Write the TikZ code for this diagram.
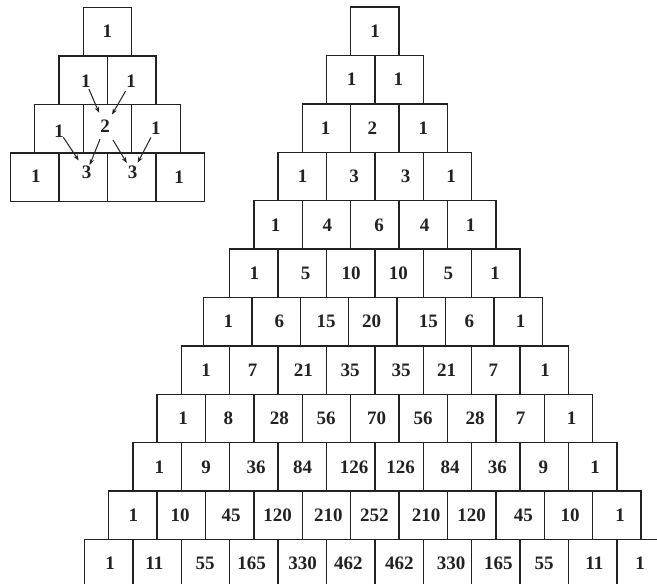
\documentclass[tikz,border=0pt]{standalone}
\usepackage{fontspec}
\setmainfont{Liberation Serif}
\usetikzlibrary{arrows.meta}
\definecolor{ink}{HTML}{222222}
\begin{document}
\begin{tikzpicture}[x=1pt,y=-1pt,
  cell/.style={draw=ink,line width=1.4pt,rectangle,inner sep=0pt,minimum width=48.4pt,minimum height=48.4pt},
  scell/.style={draw=ink,line width=1.4pt,rectangle,inner sep=0pt,minimum width=48.5pt,minimum height=48.6pt},
  num/.style={inner sep=0pt,text=ink,font=\fontsize{19}{19}\selectfont\bfseries},
  arr/.style={draw=ink,line width=1pt,-{Stealth[length=6pt,width=4.5pt]}}]
\useasboundingbox (0,0) rectangle (657,584);
% ---------- small pyramid ----------
\foreach \k in {0,...,3}{
  \foreach \j in {0,...,\k}{
    \node[scell] (s\k-\j) at ({107.5-24.25*\k+48.5*\j},{31.6+48.6*\k}) {};
  }
}
\node[num] (t0-0) at (107.3,31.7) {1};
\node[num] (t1-0) at (85.8,81.7) {1};
\node[num] (t1-1) at (131,81.7) {1};
\node[num] (t2-0) at (59,130.8) {1};
\node[num] (t2-1) at (105,126.7) {2};
\node[num] (t2-2) at (155.8,128.3) {1};
\node[num] (t3-0) at (35.8,176.7) {1};
\node[num] (t3-1) at (86.7,172.5) {3};
\node[num] (t3-2) at (132.5,172.5) {3};
\node[num] (t3-3) at (179.2,177) {1};
\draw[arr,shorten <=1pt,shorten >=8pt] (t1-0) -- (t2-1);
\draw[arr,shorten <=3.5pt,shorten >=6.5pt] (t1-1) -- (t2-1);
\draw[arr,shorten <=0pt,shorten >=6.5pt] (t2-0) -- (t3-1);
\draw[arr,shorten <=6.5pt,shorten >=1pt] (t2-1) -- (t3-1);
\draw[arr,shorten <=8pt,shorten >=3.4pt] (t2-1) -- (t3-2);
\draw[arr,shorten <=3pt,shorten >=3.6pt] (t2-2) -- (t3-2);
% ---------- big pyramid ----------
\foreach \k/\sh in {0/0,1/0,2/0,3/0,4/0,5/0,6/-2,7/0,8/0,9/0,10/0,11/0}{
  \foreach \j in {0,...,\k}{
    \node[cell] (b\k-\j) at ({374.8-24.2*\k+48.4*\j+\sh},{31.2+48.4*\k}) {};
  }
}
\foreach \x/\t [count=\j from 0] in {375/1}
  {\node[num] (n0-\j) at (\x,31.2) {\t};}
\foreach \x/\t [count=\j from 0] in {351.7/1,398.3/1}
  {\node[num] (n1-\j) at (\x,79.6) {\t};}
\foreach \x/\t [count=\j from 0] in {325.7/1,372.3/2,423.3/1}
  {\node[num] (n2-\j) at (\x,128) {\t};}
\foreach \x/\t [count=\j from 0] in {302.7/1,354/3,405.7/3,451/1}
  {\node[num] (n3-\j) at (\x,176.4) {\t};}
\foreach \x/\t [count=\j from 0] in {275.7/1,327.3/4,379/6,424.7/4,470.7/1}
  {\node[num] (n4-\j) at (\x,224.8) {\t};}
\foreach \x/\t [count=\j from 0] in {254.3/1,305.7/5,351/10,398.3/10,448.3/5,495/1}
  {\node[num] (n5-\j) at (\x,273.2) {\t};}
\foreach \x/\t [count=\j from 0] in {228.3/1,279.3/6,326/15,371.7/20,428.3/15,469.3/6,520.7/1}
  {\node[num] (n6-\j) at (\x,321.6) {\t};}
\foreach \x/\t [count=\j from 0] in {206/1,252.7/7,303.3/21,350/35,401/35,446.7/21,493.3/7,545/1}
  {\node[num] (n7-\j) at (\x,370) {\t};}
\foreach \x/\t [count=\j from 0] in {183/1,228.3/8,279.3/28,326/56,376.7/70,423/56,475/28,520.7/7,571.7/1}
  {\node[num] (n8-\j) at (\x,418.4) {\t};}
\foreach \x/\t [count=\j from 0] in {159.3/1,206/9,256/36,302.7/84,354/126,400.7/126,450/84,497.3/36,543.3/9,595/1}
  {\node[num] (n9-\j) at (\x,466.8) {\t};}
\foreach \x/\t [count=\j from 0] in {133.3/1,180/10,231/45,277.7/120,328.3/210,374.3/252,426/210,471.7/120,523.3/45,570/10,620/1}
  {\node[num] (n10-\j) at (\x,515.2) {\t};}
\foreach \x/\t [count=\j from 0] in {110/1,154.3/11,205/55,251.7/165,302.7/330,348.3/462,399.3/462,451/330,498.3/165,544/55,594.3/11,640/1}
  {\node[num] (n11-\j) at (\x,563.6) {\t};}
\end{tikzpicture}
\end{document}
